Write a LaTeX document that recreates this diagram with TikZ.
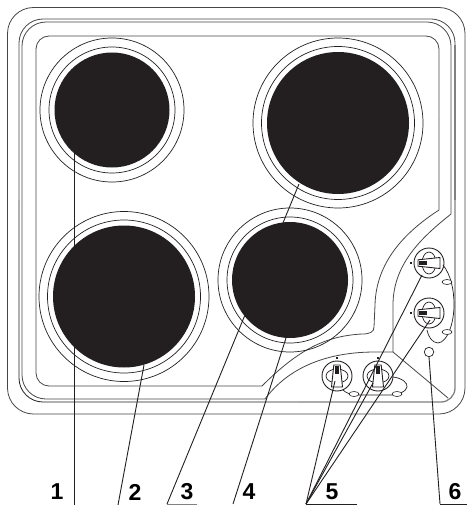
\documentclass[tikz,border=0pt]{standalone}
\usepackage{fontspec}
\setmainfont{Liberation Sans}
\usepackage{tikz}
\usetikzlibrary{shapes.geometric,positioning,calc}
\definecolor{platedark}{RGB}{35,31,32}
\definecolor{edgegrey}{RGB}{70,70,70}

\begin{document}
\begin{tikzpicture}[
    x=1pt, y=-1pt,
    outline/.style={draw=edgegrey, line width=0.8pt},
    ring/.style={circle, draw=platedark, line width=0.7pt, inner sep=0pt},
    hotplate/.style={circle, fill=platedark, inner sep=0pt},
    knobbody/.style={circle, draw=platedark, line width=0.9pt, minimum size=30pt, inner sep=0pt},
    wire/.style={draw=platedark, line width=0.7pt},
    oval/.style={ellipse, draw=platedark, fill=white, line width=0.6pt, minimum width=10pt, minimum height=5pt, inner sep=0pt},
    leader/.style={draw=platedark, line width=0.9pt},
    partlabel/.style={font=\fontsize{23}{23}\bfseries\selectfont, inner sep=0pt, text=black}
]
\useasboundingbox (0,0) rectangle (467,505);

% hob outlines
\draw[outline, rounded corners=26pt] (7.5,7.5) rectangle (465,414);
\draw[outline] (19,200) [rounded corners=24pt] -- (19,19) -- (455,19) -- (455,200);
\draw[draw=gray, line width=1.3pt] (455,200) [rounded corners=14pt] -- (455,402) -- (300,402);
\draw[draw=platedark, line width=0.8pt] (300,402) [rounded corners=24pt] -- (19,402) -- (19,200);
\draw[draw=gray, line width=1.3pt] (455,45) -- (455,200);
\draw[outline] (265,399) [rounded corners=24pt] -- (22,399) -- (22,22) -- (451,22) -- (451,120);
\draw[outline] (451,120) -- (451,214) .. controls (425,235) and (393,262) .. (393,305) -- (393,352)
    -- (375,352) .. controls (320,352) and (285,372) .. (265,399);
\draw[outline] (262,386) [rounded corners=13pt] -- (36,386) -- (36,36) -- (439,36) -- (439,120);
\draw[outline] (439,120) -- (439,210) .. controls (405,232) and (376,262) .. (375,305) -- (374,327)
    .. controls (374,332) and (370,334) .. (362,334) .. controls (325,336) and (298,350) .. (262,386);
\coordinate (cornerin) at (393,352);
\coordinate (cornerout) at (448,398);
\draw[outline] (cornerin) -- (cornerout);

% plates
\node[ring, minimum size=144pt] (ring1o) at (112,110) {};
\node[ring, minimum size=126pt] (ring1i) at (ring1o.center) {};
\node[hotplate, minimum size=115pt] (plate1) at (ring1o.center) {};
\node[ring, minimum size=170pt] (ring2o) at (124,296.5) {};
\node[ring, minimum size=153pt] (ring2i) at (ring2o.center) {};
\node[hotplate, minimum size=142pt] (plate2) at (ring2o.center) {};
\node[ring, minimum size=170pt] (ring3o) at (338,123) {};
\node[ring, minimum size=153pt] (ring3i) at (ring3o.center) {};
\node[hotplate, minimum size=142pt] (plate3) at (ring3o.center) {};
\node[ring, minimum size=144pt] (ring4o) at (290,280) {};
\node[ring, minimum size=126pt] (ring4i) at (ring4o.center) {};
\node[hotplate, minimum size=116pt] (plate4) at (ring4o.center) {};

% wires and knobs
\draw[wire] (443,265) .. controls (451,275) and (454,290) .. (454,305)
    .. controls (454,322) and (448,342) .. (438,343) .. controls (432,343) and (428,336) .. (427,330);
\draw[wire] (393,377) .. controls (402,378) and (408,383) .. (407,387)
    .. controls (406,392) and (398,395) .. (390,395) -- (358,395) .. controls (351,395) and (346,393) .. (343,390);
\node[oval] (ovalr1) at (447,282) {};
\node[oval] (ovalr2) at (447,332) {};
\node[oval] (ovalb1) at (354,394) {};
\node[oval] (ovalb2) at (397,394) {};

\node[knobbody] (knob1) at (337,376) {};
\node[knobbody] (knob2) at (378,376) {};
\node[knobbody] (knob3) at (429,263) {};
\node[knobbody] (knob4) at (429,313) {};
\foreach \kn/\ang in {knob1/0,knob2/0,knob3/90,knob4/90}{
    \begin{scope}[shift={(\kn.center)}, rotate=\ang]
        \draw[wire] (0,0) ellipse [x radius=11, y radius=7];
        \draw[wire, fill=white, line width=0.9pt] (-3.2,-11) -- (3.2,-11) -- (5.5,11) -- (-5.5,11) -- cycle;
        \fill[platedark] (-2.3,-10.5) rectangle (2.3,-2.5);
        \fill[platedark] (-0.6,-19) rectangle (0.6,-17);
    \end{scope}
}
\node[circle, draw=platedark, line width=0.7pt, minimum size=9.5pt, inner sep=0pt] (lamp) at (429,352) {};

% labels
\node[partlabel] (lab1) at (57,492) {1};
\node[partlabel] (lab2) at (135,492) {2};
\node[partlabel] (lab3) at (187,492) {3};
\node[partlabel] (lab4) at (249,492) {4};
\node[partlabel] (lab5) at (332,492) {5};
\node[partlabel] (lab6) at (455,492) {6};

% leaders
\coordinate (foot1) at (74,505);
\coordinate (foot2) at (118,505);
\coordinate (foot3) at (167,504);
\coordinate (foot4) at (233,504);
\coordinate (foot5) at (306,504);
\coordinate (foot6) at (440,504);
\coordinate (tail3) at (197,504);
\coordinate (tail5) at (357,504);
\coordinate (tail6) at (467,504);
\coordinate (tip1) at (74,153);
\coordinate (tip2) at (144,365);
\coordinate (tip3) at (299,184);
\coordinate (tip4) at (286,338);
\coordinate (tipk1) at (335,381);
\coordinate (tipk2) at (373,383);
\coordinate (tipk3) at (422,275);
\coordinate (tipk4) at (430,320);

\draw[leader] (foot1) -- (tip1);
\draw[leader] (foot2) -- (tip2);
\draw[leader] (foot3) -- (tip3);
\draw[leader] (foot4) -- (tip4);
\draw[leader] (foot5) -- (tipk1);
\draw[leader] (foot5) -- (tipk2);
\draw[leader] (foot5) -- (tipk3);
\draw[leader] (foot5) -- (tipk4);
\draw[leader] (foot6) -- (lamp.south);
\draw[draw=gray, line width=0.9pt] (foot3) -- (tail3);
\draw[leader] (foot5) -- (tail5);
\draw[leader] (foot6) -- (tail6);
\end{tikzpicture}
\end{document}
